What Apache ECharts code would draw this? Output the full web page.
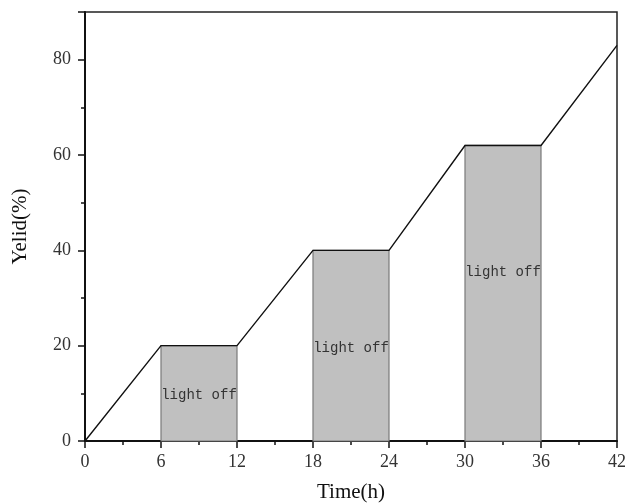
<!DOCTYPE html>
<html>
<head>
<meta charset="utf-8">
<script src="https://cdn.jsdelivr.net/npm/echarts@6/dist/echarts.min.js"></script>
<style>
  html, body { margin: 0; padding: 0; background: #fff; }
  #chart { width: 627px; height: 504px; }
</style>
</head>
<body>
<div id="chart"></div>
<script>
// yield curve
var time_h = [0, 6, 12, 18, 24, 30, 36, 42];
var yield_pct = [0, 20, 20, 40, 40, 62, 62, 83];

// dark periods
var off_start = [6, 18, 30];
var off_end = [12, 24, 36];
var off_top = [20, 40, 62];
var off_label_y = [9.5, 19.5, 35.3];
var off_label = ['light off', 'light off', 'light off'];

var x_ticks = [0, 6, 12, 18, 24, 30, 36, 42];
var y_ticks = [0, 20, 40, 60, 80];

var line_data = time_h.map(function (t, i) { return [t, yield_pct[i]]; });
var box_data = off_start.map(function (s, i) {
    return [s, off_end[i], off_top[i], off_label_y[i], off_label[i]];
});

var chart = echarts.init(document.getElementById('chart'));

var serif = '"Liberation Serif", "DejaVu Serif", serif';

var option = {
    animation: false,
    backgroundColor: '#fff',
    grid: {
        left: 85, right: 10, top: 12, bottom: 63,
        outerBoundsMode: 'none', containLabel: false,
        show: true, borderColor: '#222', borderWidth: 1.5, backgroundColor: 'transparent'
    },
    xAxis: {
        type: 'value', min: 0, max: 42, interval: 6,
        name: 'Time(h)', nameLocation: 'middle', nameGap: 41,
        nameTextStyle: { fontFamily: serif, fontSize: 21, color: '#111' },
        axisLine: { show: true, lineStyle: { color: '#111', width: 2 } },
        axisTick: { show: true, inside: false, length: 7, lineStyle: { color: '#111', width: 1.5 } },
        minorTick: { show: true, splitNumber: 2, length: 4, lineStyle: { color: '#111', width: 1.5 } },
        axisLabel: { fontFamily: serif, fontSize: 18, color: '#333', margin: 12,
            formatter: function (v) { return x_ticks.indexOf(v) >= 0 ? String(v) : ''; } },
        splitLine: { show: false }
    },
    yAxis: {
        type: 'value', min: 0, max: 90, interval: 20,
        name: 'Yelid(%)', nameLocation: 'middle', nameGap: 54,
        nameTextStyle: { fontFamily: serif, fontSize: 21, color: '#111' },
        axisLine: { show: true, lineStyle: { color: '#111', width: 2 } },
        axisTick: { show: true, inside: false, length: 7, lineStyle: { color: '#111', width: 1.5 } },
        minorTick: { show: true, splitNumber: 2, length: 4, lineStyle: { color: '#111', width: 1.5 } },
        axisLabel: { fontFamily: serif, fontSize: 18, color: '#333', margin: 14,
            formatter: function (v) { return y_ticks.indexOf(v) >= 0 ? String(v) : ''; } },
        splitLine: { show: false }
    },
    series: [
        {
            type: 'custom',
            data: box_data,
            z: 1,
            renderItem: function (params, api) {
                var p0 = api.coord([api.value(0), api.value(2)]);
                var p1 = api.coord([api.value(1), 0]);
                var mid = api.coord([(api.value(0) + api.value(1)) / 2, api.value(3)]);
                return {
                    type: 'group',
                    children: [
                        {
                            type: 'rect',
                            shape: { x: p0[0], y: p0[1], width: p1[0] - p0[0], height: p1[1] - p0[1] },
                            style: { fill: '#c0c0c0', stroke: '#7a7a7a', lineWidth: 1.2 }
                        },
                        {
                            type: 'text',
                            x: mid[0], y: mid[1],
                            style: {
                                text: box_data[params.dataIndex][4],
                                fontFamily: '"Liberation Mono", "DejaVu Sans Mono", monospace',
                                fontSize: 14, fill: '#333', align: 'center', verticalAlign: 'middle'
                            }
                        }
                    ]
                };
            }
        },
        {
            type: 'line',
            data: line_data,
            z: 3,
            symbol: 'none',
            lineStyle: { color: '#111', width: 1.4 }
        }
    ]
};

chart.setOption(option);
</script>
</body>
</html>
